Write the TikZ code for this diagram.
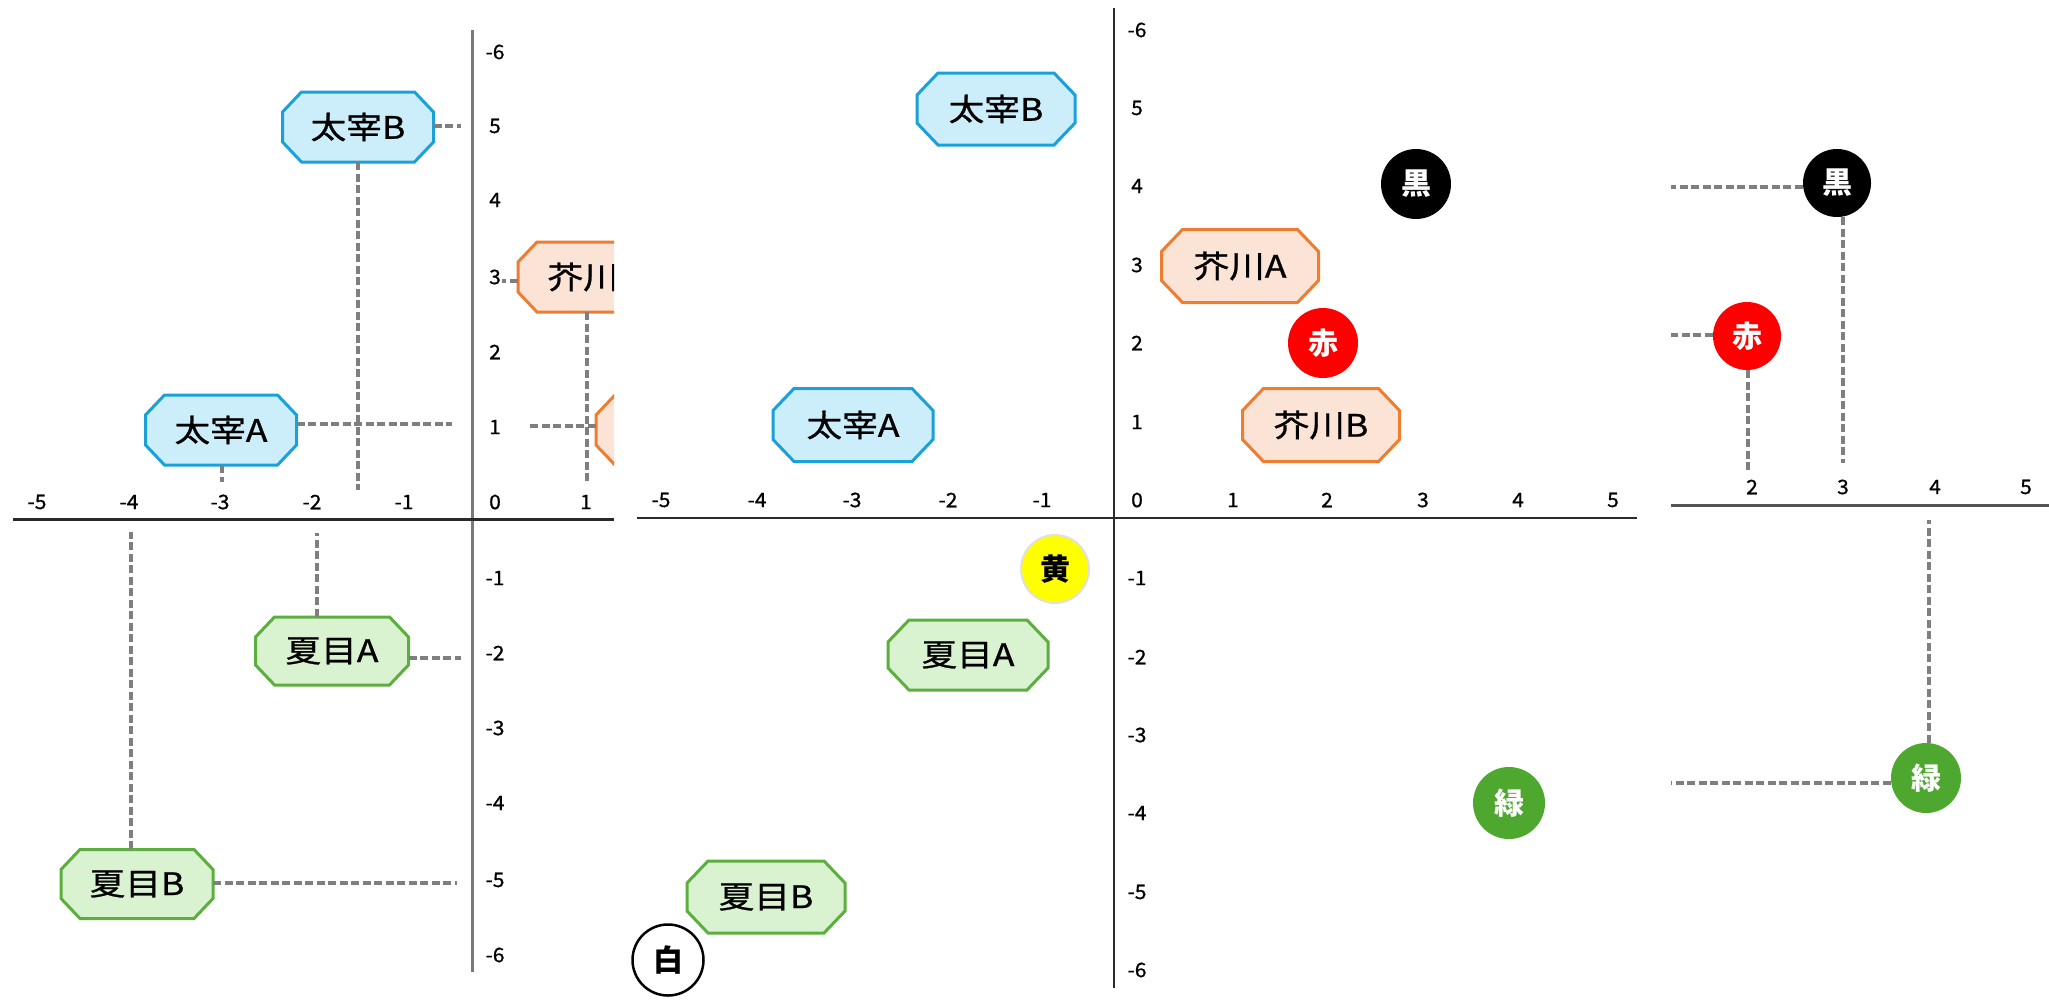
\documentclass[tikz,border=0pt]{standalone}
\usepackage{fontspec}
\usepackage{graphicx}
\setmainfont{Noto Sans CJK JP}
\newfontfamily\boxfont{Noto Sans CJK JP}[FakeBold=0.8]
\definecolor{blueS}{HTML}{1BA1D9}
\definecolor{blueF}{HTML}{CCEEFB}
\definecolor{orS}{HTML}{ED7D31}
\definecolor{orF}{HTML}{FBE3D6}
\definecolor{grS}{HTML}{5CAF3F}
\definecolor{grF}{HTML}{D9F2D0}
\definecolor{grC}{HTML}{4EA72E}
\definecolor{guideGray}{HTML}{7F7F7F}
\definecolor{axGray}{HTML}{7A7A7A}
\definecolor{axDark}{HTML}{2A2A2A}
\definecolor{yelC}{HTML}{FFFF00}
\definecolor{redC}{HTML}{FF0000}
\newcommand\mtxt[1]{\scalebox{1.15}[1]{\fontsize{31}{31}\boxfont #1}}
\newcommand\mnum[1]{\scalebox{1.05}[1]{\fontsize{20}{20}\boxfont #1}}
% name, cx, cy, w, h, chamfer x, chamfer y, style, text
\newcommand\octa[9]{%
  \path[#8] ({#2-#4/2+#6},{#3-#5/2}) -- ({#2+#4/2-#6},{#3-#5/2})
    -- ({#2+#4/2},{#3-#5/2+#7}) -- ({#2+#4/2},{#3+#5/2-#7})
    -- ({#2+#4/2-#6},{#3+#5/2}) -- ({#2-#4/2+#6},{#3+#5/2})
    -- ({#2-#4/2},{#3+#5/2-#7}) -- ({#2-#4/2},{#3-#5/2+#7}) -- cycle;
  \node[inner sep=0pt, minimum width=#4pt, minimum height=#5pt] (#1) at (#2,#3) {#9};}
\begin{document}
\begin{tikzpicture}[x=1pt,y=-1pt,
  guide/.style={draw=guideGray, line width=3.2pt, dash pattern=on 8pt off 3.5pt},
  tick/.style={inner sep=0pt, anchor=center},
  bluebox/.style={draw=blueS, fill=blueF, line width=3pt, line join=miter},
  orbox/.style={draw=orS, fill=orF, line width=3pt, line join=miter},
  grbox/.style={draw=grS, fill=grF, line width=3pt, line join=miter},
  circ/.style={circle, minimum size=70pt, inner sep=0pt, font=\fontsize{30}{30}\selectfont\bfseries}]
\fill[white] (0,0) rectangle (2049,1001);
\useasboundingbox (0,0) rectangle (2049,1001);

% ---------------- left panel ----------------
\begin{scope}
\clip (0,0) rectangle (614,1001);
\draw[axGray, line width=3pt] (472,30) -- (472,972);
\draw[axDark, line width=3pt] (13,519) -- (614,519);
\foreach \v/\x in {-5/37,-4/129,-3/220,-2/312,-1/404,0/495,1/586}
  \node[tick] (lx\x) at (\x,502) {\mnum{\v}};
\foreach \v/\y in {-6/52,5/126,4/200,3/277,2/352,1/427,-1/578,-2/653,-3/728,-4/803,-5/880,-6/955}
  \node[tick] (ly\y) at (495,\y) {\mnum{\v}};

\octa{ldB}{358}{127}{151}{70}{19}{20}{bluebox}{\mtxt{太宰B}}
\octa{ldA}{221}{430}{151}{70}{19}{20}{bluebox}{\mtxt{太宰A}}
\octa{lakA}{594}{277}{152}{70}{19}{20}{orbox}{\mtxt{芥川A}}
\octa{lakB}{672}{430}{152}{70}{19}{20}{orbox}{\mtxt{芥川B}}
\octa{lnA}{332}{651}{153}{68}{19}{20}{grbox}{\mtxt{夏目A}}
\octa{lnB}{137}{884}{152}{69}{19}{20}{grbox}{\mtxt{夏目B}}

\coordinate (g1) at (461,126);
\coordinate (g2) at (358,490);
\coordinate (g3) at (452,424);
\coordinate (g4) at (222,482);
\coordinate (g5) at (502,281);
\coordinate (g6) at (587,482);
\coordinate (g7) at (529,426);
\coordinate (g8) at (317,533);
\coordinate (g9) at (461,658);
\coordinate (g10) at (131,532);
\coordinate (g11) at (457,883);
\draw[guide] (ldB.east |- g1) -- (g1);
\draw[guide] (ldB.south -| g2) -- (g2);
\draw[guide] (ldA.east |- g3) -- (g3);
\draw[guide] (ldA.south -| g4) -- (g4);
\draw[guide] (lakA.west |- g5) -- (g5);
\draw[guide] (lakA.south -| g6) -- (g6);
\draw[guide] (lakB.west |- g7) -- (g7);
\draw[guide] (lnA.north -| g8) -- (g8);
\draw[guide] (lnA.east |- g9) -- (g9);
\draw[guide] (lnB.north -| g10) -- (g10);
\draw[guide] (lnB.east |- g11) -- (g11);
\end{scope}

% ---------------- middle panel ----------------
\draw[axDark, line width=2.5pt] (1114,8) -- (1114,988);
\draw[axDark, line width=2.5pt] (637,518) -- (1637,518);
\foreach \v/\x in {-5/661,-4/757,-3/852,-2/948,-1/1042,0/1137,1/1233,2/1327,3/1423,4/1518,5/1613}
  \node[tick] (mx\x) at (\x,500) {\mnum{\v}};
\foreach \v/\y in {-6/30,5/108,4/186,3/265,2/343,1/422,-1/578,-2/657,-3/735,-4/813,-5/892,-6/970}
  \node[tick] (my\y) at (1137,\y) {\mnum{\v}};

\octa{mdB}{996}{109}{158}{72}{21}{22}{bluebox}{\mtxt{太宰B}}
\octa{mdA}{853}{425}{160}{73}{21}{22}{bluebox}{\mtxt{太宰A}}
\octa{makA}{1240}{266}{157}{73}{21}{22}{orbox}{\mtxt{芥川A}}
\octa{makB}{1321}{425}{157}{73}{21}{22}{orbox}{\mtxt{芥川B}}
\octa{mnA}{968}{655}{160}{70}{21}{22}{grbox}{\mtxt{夏目A}}
\octa{mnB}{766}{897}{158}{72}{21}{22}{grbox}{\mtxt{夏目B}}

\node[circ, fill=black, text=white] (mblack) at (1416,184) {黒};
\node[circ, fill=redC, text=white] (mred) at (1323,343) {赤};
\node[circ, fill=yelC, text=black, draw=black!12, line width=2pt, minimum size=68pt] (myel) at (1055,569) {黄};
\node[circ, fill=grC, text=white, minimum size=72pt] (mgreen) at (1509,803) {緑};
\node[circ, fill=white, text=black, draw=black, line width=2.5pt, minimum size=71pt] (mwhite) at (668,960) {白};

% ---------------- right panel ----------------
\begin{scope}
\clip (1671,0) rectangle (2049,1001);
\draw[axDark!80, line width=3pt] (1671,505) -- (2049,505);
\foreach \v/\x in {2/1752,3/1843,4/1935,5/2026}
  \node[tick] (rx\x) at (\x,487) {\mnum{\v}};
\node[circ, fill=black, text=white, minimum size=68pt] (rblack) at (1837,183) {黒};
\node[circ, fill=redC, text=white, minimum size=68pt] (rred) at (1747,336) {赤};
\node[circ, fill=grC, text=white] (rgreen) at (1926,778) {緑};
\coordinate (h1) at (1671,187);
\coordinate (h2) at (1843,463);
\coordinate (h3) at (1671,335);
\coordinate (h4) at (1748,472);
\coordinate (h5) at (1929,520);
\coordinate (h6) at (1671,783);
\draw[guide] (rblack.west |- h1) -- (h1);
\draw[guide] (rblack.south -| h2) -- (h2);
\draw[guide] (rred.west |- h3) -- (h3);
\draw[guide] (rred.south -| h4) -- (h4);
\draw[guide] (rgreen.north -| h5) -- (h5);
\draw[guide] (rgreen.west |- h6) -- (h6);
\end{scope}
\end{tikzpicture}
\end{document}
